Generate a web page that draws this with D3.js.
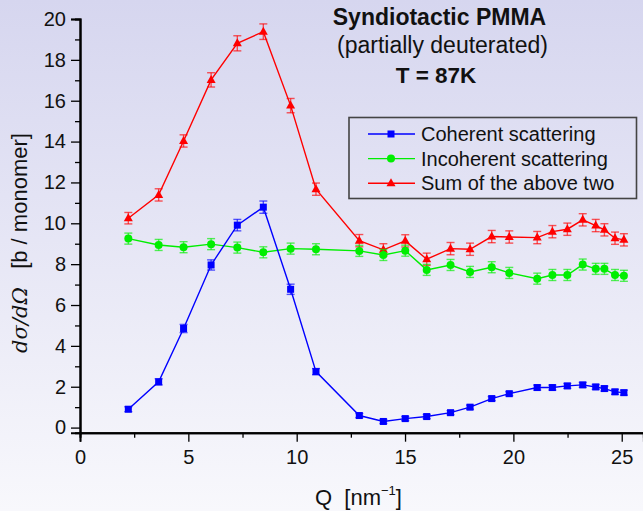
<!DOCTYPE html>
<html>
<head>
<meta charset="utf-8">
<script src="https://cdn.jsdelivr.net/npm/d3@7"></script>
<style>
  body { margin: 0; padding: 0; }
  svg { display: block; font-family: "Liberation Sans", Arial, sans-serif; }
</style>
</head>
<body>
<div id="chart"></div>
<script>
// data
var qValues = [2.23, 3.63, 4.78, 6.05, 7.26, 8.46, 9.72, 10.89, 12.89, 14.0, 15.01, 16.0,
  17.1, 18.0, 19.0, 19.81, 21.1, 21.8, 22.49, 23.2, 23.8, 24.2, 24.69, 25.1];

var coherent = [0.90, 2.24, 4.85, 7.96, 9.91, 10.79, 6.77, 2.74, 0.59, 0.30, 0.44, 0.54,
  0.73, 1.00, 1.42, 1.66, 1.96, 1.96, 2.04, 2.09, 1.99, 1.91, 1.75, 1.71];
var coherentErr = [0.12, 0.15, 0.2, 0.25, 0.28, 0.3, 0.25, 0.15, 0.1, 0.1, 0.1, 0.1,
  0.1, 0.1, 0.1, 0.1, 0.12, 0.12, 0.12, 0.12, 0.12, 0.12, 0.12, 0.12];

var incoherent = [9.25, 8.94, 8.83, 8.98, 8.81, 8.58, 8.76, 8.73, 8.65, 8.45, 8.66, 7.72,
  7.96, 7.62, 7.85, 7.57, 7.29, 7.47, 7.47, 7.98, 7.77, 7.77, 7.47, 7.43];
var incoherentErr = [0.27, 0.27, 0.27, 0.27, 0.27, 0.27, 0.27, 0.27, 0.27, 0.27, 0.27, 0.27,
  0.27, 0.27, 0.27, 0.27, 0.27, 0.27, 0.27, 0.27, 0.27, 0.27, 0.27, 0.27];

var sumTwo = [10.25, 11.39, 14.03, 17.02, 18.81, 19.38, 15.76, 11.67, 9.15, 8.70, 9.14, 8.24,
  8.76, 8.73, 9.35, 9.33, 9.30, 9.59, 9.71, 10.17, 9.89, 9.68, 9.27, 9.19];
var sumErr = [0.28, 0.3, 0.3, 0.35, 0.37, 0.38, 0.35, 0.3, 0.3, 0.3, 0.3, 0.3,
  0.3, 0.3, 0.3, 0.3, 0.3, 0.3, 0.3, 0.3, 0.3, 0.3, 0.3, 0.3];

var xTicks = [0, 5, 10, 15, 20, 25];
var yTicks = [0, 2, 4, 6, 8, 10, 12, 14, 16, 18, 20];

var titleLines = ["Syndiotactic PMMA", "(partially deuterated)", "T = 87K"];
var legendLabels = ["Coherent scattering", "Incoherent scattering", "Sum of the above two"];

var svgWidth = 643;
var svgHeight = 511;

var svg = d3.select("#chart")
  .append("svg")
  .attr("width", svgWidth)
  .attr("height", svgHeight);

// background gradient
var defs = svg.append("defs");
var grad = defs.append("linearGradient")
  .attr("id", "bg")
  .attr("x1", 0).attr("y1", 0).attr("x2", 0).attr("y2", 1);
grad.append("stop").attr("offset", "0%").attr("stop-color", "#d6d6ef");
grad.append("stop").attr("offset", "100%").attr("stop-color", "#f8f8fc");

svg.append("rect")
  .attr("width", svgWidth)
  .attr("height", svgHeight)
  .attr("fill", "url(#bg)");

var xScale = d3.scaleLinear().domain([0, 26]).range([80, 643.4]);
var yScale = d3.scaleLinear().domain([-0.25, 20]).range([432.7, 19]);

// axes
var xAxis = d3.axisBottom(xScale).tickValues(xTicks).tickSize(9).tickPadding(8);
var xMinor = d3.axisBottom(xScale).tickValues([2.5, 7.5, 12.5, 17.5, 22.5]).tickSize(5).tickFormat("");
var yAxis = d3.axisLeft(yScale).tickValues(yTicks).tickSize(9).tickPadding(5);
var yMinor = d3.axisLeft(yScale).tickValues(d3.range(1, 20, 2)).tickSize(5).tickFormat("");

function styleAxis(g) {
  g.select(".domain").attr("stroke", "#000").attr("stroke-width", 2);
  g.selectAll(".tick line").attr("stroke", "#000").attr("stroke-width", 1.3);
  g.selectAll(".tick text").attr("fill", "#111").attr("font-size", "20px")
    .attr("font-family", "Liberation Sans, Arial, sans-serif");
}

svg.append("g").attr("transform", "translate(0," + yScale(-0.25) + ")").call(xMinor).call(styleAxis);
svg.append("g").attr("transform", "translate(0," + yScale(-0.25) + ")").call(xAxis).call(styleAxis);
svg.append("g").attr("transform", "translate(80,0)").call(yMinor).call(styleAxis);
svg.append("g").attr("transform", "translate(80,0)").call(yAxis).call(styleAxis);

// axis titles
var xTitle = svg.append("text")
  .attr("x", 315)
  .attr("y", 505)
  .attr("font-size", "22px")
  .attr("fill", "#111")
  .attr("xml:space", "preserve");
xTitle.append("tspan").text("Q  [nm");
xTitle.append("tspan").attr("font-size", "13px").attr("dy", -10).text("\u22121");
xTitle.append("tspan").attr("dy", 10).text("]");

var yTitle = svg.append("text")
  .attr("transform", "translate(27,243) rotate(-90)")
  .attr("text-anchor", "middle")
  .attr("font-size", "22px")
  .attr("fill", "#111")
  .attr("xml:space", "preserve");
yTitle.append("tspan").attr("font-family", "DejaVu Serif, serif").attr("font-style", "italic").attr("font-size", "21px").text("d\u03c3/d\u03a9");
yTitle.append("tspan").text("   [b / monomer]");

// series
var series = [
  { name: legendLabels[0], values: coherent, err: coherentErr, color: "#0000ff", shape: "square" },
  { name: legendLabels[1], values: incoherent, err: incoherentErr, color: "#00ee00", shape: "circle" },
  { name: legendLabels[2], values: sumTwo, err: sumErr, color: "#ff0000", shape: "triangle" }
];

var line = d3.line()
  .x(d => xScale(d.q))
  .y(d => yScale(d.v));

function marker(g, shape, color) {
  if (shape === "square") {
    g.append("rect").attr("x", -3.5).attr("y", -3.5).attr("width", 7).attr("height", 7).attr("fill", color);
  } else if (shape === "circle") {
    g.append("circle").attr("r", 4).attr("fill", color);
  } else {
    g.append("path").attr("d", "M0,-5L4.5,3L-4.5,3Z").attr("fill", color);
  }
}

// draw order: sum, incoherent, coherent
[series[2], series[1], series[0]].forEach(function(s) {
  var pts = qValues.map(function(q, i) { return { q: q, v: s.values[i], e: s.err[i] }; });
  var g = svg.append("g");

  g.append("path")
    .datum(pts)
    .attr("d", line)
    .attr("fill", "none")
    .attr("stroke", s.color)
    .attr("stroke-width", 1.4);

  var eb = g.selectAll(".err")
    .data(pts)
    .enter()
    .append("g")
    .attr("stroke", s.color)
    .attr("stroke-opacity", 0.65)
    .attr("stroke-width", 1.4);

  eb.append("line")
    .attr("x1", d => xScale(d.q)).attr("x2", d => xScale(d.q))
    .attr("y1", d => yScale(d.v - d.e)).attr("y2", d => yScale(d.v + d.e));
  eb.append("line")
    .attr("x1", d => xScale(d.q) - 4).attr("x2", d => xScale(d.q) + 4)
    .attr("y1", d => yScale(d.v + d.e)).attr("y2", d => yScale(d.v + d.e));
  eb.append("line")
    .attr("x1", d => xScale(d.q) - 4).attr("x2", d => xScale(d.q) + 4)
    .attr("y1", d => yScale(d.v - d.e)).attr("y2", d => yScale(d.v - d.e));

  g.selectAll(".pt")
    .data(pts)
    .enter()
    .append("g")
    .attr("transform", d => "translate(" + xScale(d.q) + "," + yScale(d.v) + ")")
    .each(function() { marker(d3.select(this), s.shape, s.color); });
});

// title
svg.append("text").attr("x", 439.5).attr("y", 25).attr("text-anchor", "middle")
  .attr("font-size", "23px").attr("font-weight", "bold").attr("fill", "#111").text(titleLines[0]);
svg.append("text").attr("x", 442.5).attr("y", 53).attr("text-anchor", "middle")
  .attr("font-size", "23px").attr("fill", "#111").text(titleLines[1]);
svg.append("text").attr("x", 436).attr("y", 83).attr("text-anchor", "middle")
  .attr("font-size", "22.5px").attr("font-weight", "bold").attr("fill", "#111").text(titleLines[2]);

// legend
var legend = svg.append("g");
legend.append("rect")
  .attr("x", 349).attr("y", 117.5)
  .attr("width", 287.5).attr("height", 81)
  .attr("fill", "none")
  .attr("stroke", "#444")
  .attr("stroke-width", 1.6);

series.forEach(function(s, i) {
  var yy = 134 + i * 24.6;
  legend.append("line")
    .attr("x1", 368).attr("x2", 415)
    .attr("y1", yy).attr("y2", yy)
    .attr("stroke", s.color).attr("stroke-width", 1.4);
  var m = legend.append("g").attr("transform", "translate(391," + yy + ")");
  marker(m, s.shape, s.color);
  legend.append("text")
    .attr("x", 421).attr("y", yy + 7)
    .attr("font-size", "20px").attr("fill", "#111")
    .text(s.name);
});
</script>
</body>
</html>
